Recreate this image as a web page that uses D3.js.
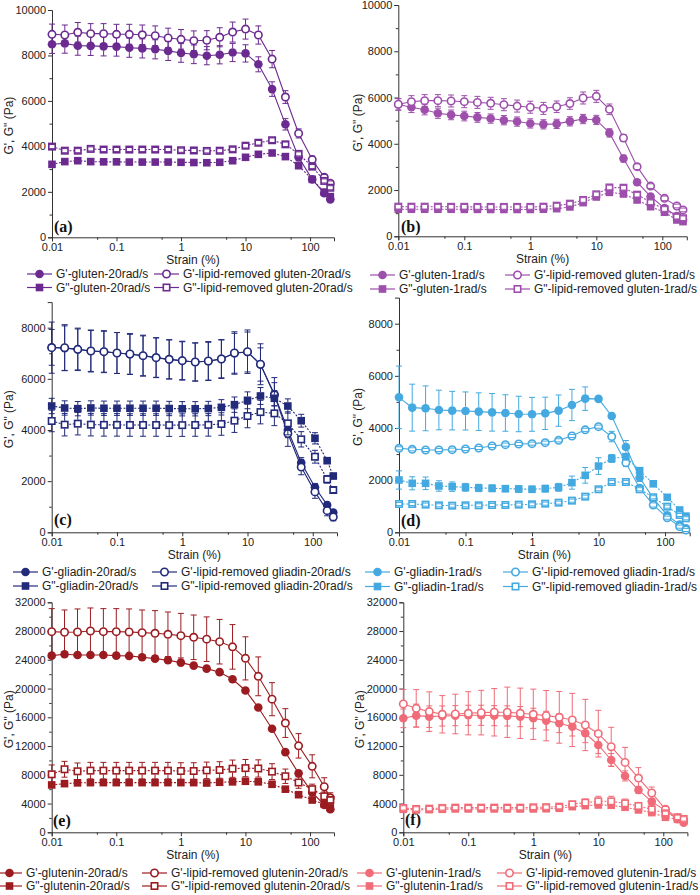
<!DOCTYPE html>
<html>
<head>
<meta charset="utf-8">
<script src="https://cdn.jsdelivr.net/npm/d3@7"></script>
<style>
  html, body { margin: 0; padding: 0; background: #fff; }
  svg { display: block; font-family: "Liberation Sans", Arial, sans-serif; }
</style>
</head>
<body>
<svg id="fig" width="700" height="895"></svg>
<script>
// Strain (%) of the 23 measured points, shared by every panel
const strain = [0.01, 0.0158, 0.0251, 0.0398, 0.0631, 0.1, 0.158, 0.251, 0.398, 0.631, 1, 1.58, 2.51, 3.98, 6.31, 10, 15.8, 25.8, 41.5, 66.5, 108, 166, 206];

// (a) gluten, 20 rad/s
const gluten20_Gp       = [8490, 8530, 8430, 8420, 8400, 8390, 8340, 8310, 8270, 8200, 8110, 8050, 7990, 8030, 8130, 8090, 7610, 6520, 4970, 3520, 2550, 1935, 1670];
const gluten20_Gp_err   = [400, 430, 420, 420, 420, 420, 420, 420, 420, 420, 410, 410, 400, 400, 400, 380, 330, 320, 250, 160, 120, 100, 80];
const gluten20_Gp_lr    = [8930, 8900, 9020, 8960, 8960, 8930, 8930, 8910, 8870, 8770, 8710, 8650, 8670, 8800, 9030, 9160, 8900, 7840, 6170, 4570, 3420, 2640, 2380];
const gluten20_Gp_lr_err= [450, 440, 430, 440, 440, 440, 440, 430, 430, 430, 430, 430, 420, 420, 440, 440, 400, 380, 280, 200, 150, 120, 100];
const gluten20_Gpp      = [3210, 3330, 3370, 3330, 3320, 3320, 3310, 3310, 3310, 3310, 3300, 3290, 3280, 3300, 3370, 3520, 3650, 3710, 3550, 3150, 2550, 1990, 1790];
const gluten20_Gpp_err  = [80, 80, 80, 80, 80, 80, 80, 80, 80, 80, 80, 80, 80, 80, 80, 90, 90, 90, 90, 80, 80, 80, 80];
const gluten20_Gpp_lr   = [3990, 3810, 3810, 3890, 3860, 3860, 3860, 3860, 3860, 3860, 3830, 3820, 3800, 3810, 3870, 4030, 4160, 4270, 4090, 3670, 3110, 2480, 2180];
const gluten20_Gpp_lr_err = [90, 90, 90, 90, 90, 90, 90, 90, 90, 90, 90, 90, 90, 90, 90, 100, 100, 100, 100, 90, 90, 90, 90];

// (b) gluten, 1 rad/s
const gluten1_Gp        = [5700, 5580, 5470, 5320, 5250, 5200, 5140, 5090, 5020, 4960, 4880, 4840, 4860, 4970, 5070, 5030, 4470, 3360, 2340, 1720, 1220, 880, 720];
const gluten1_Gp_err    = [250, 230, 220, 220, 210, 210, 210, 200, 200, 200, 200, 200, 200, 200, 200, 200, 180, 150, 120, 100, 80, 80, 80];
const gluten1_Gp_lr     = [5710, 5820, 5865, 5865, 5850, 5820, 5790, 5750, 5690, 5630, 5580, 5530, 5600, 5740, 5980, 6050, 5490, 4250, 3010, 2170, 1640, 1310, 1140];
const gluten1_Gp_lr_err = [250, 260, 260, 260, 260, 260, 260, 260, 260, 260, 260, 260, 250, 250, 260, 260, 230, 150, 120, 100, 100, 80, 80];
const gluten1_Gpp       = [1170, 1170, 1170, 1170, 1170, 1165, 1165, 1160, 1160, 1160, 1160, 1170, 1195, 1270, 1455, 1700, 1900, 1830, 1570, 1280, 1040, 706, 634];
const gluten1_Gpp_err   = [100, 100, 100, 100, 100, 100, 100, 100, 100, 100, 100, 100, 100, 100, 100, 100, 100, 100, 100, 100, 100, 100, 100];
const gluten1_Gpp_lr    = [1280, 1280, 1280, 1280, 1275, 1275, 1270, 1270, 1270, 1270, 1270, 1280, 1325, 1410, 1570, 1815, 2110, 2100, 1800, 1470, 1180, 850, 780];
const gluten1_Gpp_lr_err= [100, 100, 100, 100, 100, 100, 100, 100, 100, 100, 100, 100, 100, 100, 100, 100, 100, 100, 100, 100, 100, 100, 100];

// (c) gliadin, 20 rad/s
const gliadin20_Gp        = [7230, 7200, 7150, 7090, 7060, 7010, 6960, 6900, 6830, 6760, 6710, 6660, 6690, 6780, 7000, 7050, 6560, 5400, 4000, 2720, 1760, 1070, 770];
const gliadin20_Gp_err    = [700, 870, 800, 800, 800, 800, 780, 780, 770, 760, 740, 740, 740, 740, 780, 780, 650, 450, 300, 200, 150, 100, 80];
const gliadin20_Gp_lr     = [7218, 7218, 7153, 7088, 7062, 7010, 6970, 6906, 6827, 6762, 6710, 6658, 6697, 6775, 7010, 7060, 6570, 5368, 3860, 2550, 1580, 845, 600];
const gliadin20_Gp_lr_err = [1000, 900, 830, 820, 820, 800, 800, 800, 780, 770, 760, 750, 760, 760, 830, 850, 800, 680, 500, 300, 250, 200, 150];
const gliadin20_Gpp       = [4938, 4860, 4834, 4860, 4850, 4850, 4850, 4850, 4850, 4840, 4830, 4830, 4840, 4886, 4990, 5160, 5330, 5240, 4937, 4363, 3675, 2800, 2200];
const gliadin20_Gpp_err   = [300, 280, 280, 280, 280, 280, 280, 280, 280, 280, 280, 280, 280, 300, 300, 330, 330, 300, 280, 250, 220, 100, 100];
const gliadin20_Gpp_lr    = [4352, 4208, 4247, 4208, 4200, 4200, 4195, 4195, 4195, 4190, 4190, 4195, 4200, 4234, 4365, 4547, 4700, 4650, 4260, 3635, 2955, 2072, 1653];
const gliadin20_Gpp_lr_err= [420, 440, 440, 440, 440, 440, 440, 440, 440, 440, 440, 440, 440, 440, 460, 460, 460, 480, 450, 300, 250, 150, 100];

// (d) gliadin, 1 rad/s
const gliadin1_Gp        = [5176, 4780, 4754, 4690, 4665, 4652, 4626, 4600, 4575, 4537, 4524, 4562, 4665, 4882, 5125, 5115, 4460, 3270, 2100, 1300, 650, 300, 150];
const gliadin1_Gp_err    = [1200, 900, 860, 760, 740, 730, 720, 720, 700, 680, 650, 620, 600, 600, 450, 80, 100, 250, 150, 100, 80, 80, 80];
const gliadin1_Gp_lr     = [3220, 3182, 3157, 3157, 3169, 3195, 3233, 3310, 3361, 3387, 3400, 3438, 3527, 3693, 3930, 4050, 3670, 2670, 1690, 1048, 560, 217, 90];
const gliadin1_Gp_lr_err = [60, 60, 60, 60, 60, 60, 60, 60, 60, 60, 60, 60, 60, 60, 60, 60, 200, 150, 100, 80, 60, 60, 60];
const gliadin1_Gpp       = [2006, 1879, 1879, 1776, 1751, 1725, 1700, 1687, 1674, 1661, 1649, 1674, 1725, 1904, 2185, 2540, 2830, 2900, 2364, 1860, 1342, 855, 620];
const gliadin1_Gpp_err   = [350, 250, 240, 200, 180, 150, 140, 130, 120, 120, 120, 130, 150, 250, 300, 320, 150, 120, 100, 80, 80, 80, 80];
const gliadin1_Gpp_lr    = [1086, 1086, 1061, 1035, 1022, 1035, 1035, 1048, 1048, 1061, 1073, 1099, 1137, 1214, 1367, 1649, 1930, 1930, 1649, 1342, 984, 665, 537];
const gliadin1_Gpp_lr_err= [60, 60, 60, 60, 60, 60, 60, 60, 60, 60, 60, 60, 60, 60, 60, 60, 60, 60, 60, 60, 60, 60, 60];

// (e) glutenin, 20 rad/s
const glutenin20_Gp        = [24580, 24770, 24670, 24670, 24670, 24580, 24540, 24350, 24160, 23930, 23610, 23190, 22770, 22280, 21290, 19730, 17360, 14400, 11150, 8200, 5550, 3800, 3200];
const glutenin20_Gp_err    = [250, 250, 250, 250, 250, 250, 250, 250, 250, 250, 250, 250, 250, 250, 250, 250, 250, 250, 250, 250, 250, 250, 250];
const glutenin20_Gp_lr     = [27920, 27830, 27875, 28010, 27920, 27920, 27875, 27780, 27690, 27550, 27360, 27130, 26870, 26520, 25800, 24200, 21700, 18520, 15200, 12030, 9180, 6340, 4800];
const glutenin20_Gp_lr_err = [3200, 3100, 3200, 3200, 3200, 3200, 3200, 3150, 3150, 3100, 3100, 3100, 3100, 3100, 3100, 3000, 2700, 2300, 2000, 1700, 1600, 1250, 700];
const glutenin20_Gpp       = [6590, 6770, 6880, 6910, 6910, 6910, 6910, 6910, 6910, 6910, 6910, 6910, 6860, 6960, 7020, 7100, 7020, 6680, 6000, 5230, 4490, 3920, 3400];
const glutenin20_Gpp_err   = [300, 300, 300, 300, 300, 300, 300, 300, 300, 300, 300, 300, 300, 300, 300, 300, 300, 300, 300, 300, 300, 300, 300];
const glutenin20_Gpp_lr    = [8070, 8770, 8490, 8580, 8580, 8580, 8580, 8580, 8580, 8580, 8530, 8530, 8620, 8670, 8850, 8930, 8880, 8440, 7800, 6930, 6000, 5010, 4500];
const glutenin20_Gpp_lr_err= [1300, 1100, 1150, 1150, 1150, 1150, 1150, 1150, 1150, 1150, 1150, 1150, 1150, 1150, 1200, 1200, 1200, 1100, 1000, 800, 700, 600, 400];

// (f) glutenin, 1 rad/s
const glutenin1_Gp        = [15860, 16230, 16090, 16180, 16230, 16280, 16280, 16230, 16190, 16090, 15860, 15540, 15170, 14700, 13770, 12150, 10060, 7840, 5890, 4270, 3010, 1810, 1345];
const glutenin1_Gp_err    = [1300, 1600, 1500, 1400, 1400, 1400, 1400, 1400, 1400, 1400, 1400, 1300, 1300, 1300, 1300, 1200, 900, 700, 500, 400, 300, 200, 100];
const glutenin1_Gp_lr     = [17860, 17250, 16790, 16420, 16460, 16560, 16650, 16700, 16700, 16560, 16420, 16230, 16000, 15630, 14930, 13720, 11910, 9720, 7550, 5470, 3200, 2040, 1620];
const glutenin1_Gp_lr_err = [2000, 2600, 2750, 2600, 2750, 3000, 3100, 3300, 3500, 3500, 3500, 3500, 3600, 3700, 3570, 3250, 2700, 2100, 1450, 830, 400, 300, 200];
const glutenin1_Gpp       = [3200, 3110, 3150, 3200, 3250, 3250, 3250, 3250, 3250, 3250, 3250, 3280, 3340, 3570, 3710, 3800, 3760, 3480, 3110, 2740, 2090, 1810, 1580];
const glutenin1_Gpp_err   = [300, 300, 300, 300, 300, 300, 300, 300, 300, 300, 300, 300, 300, 300, 300, 300, 300, 300, 300, 300, 300, 300, 300];
const glutenin1_Gpp_lr    = [3390, 3250, 3290, 3390, 3430, 3430, 3430, 3430, 3430, 3430, 3480, 3500, 3570, 3900, 4130, 4310, 4310, 4030, 3660, 3200, 2640, 2090, 1860];
const glutenin1_Gpp_lr_err= [300, 300, 300, 300, 300, 300, 300, 300, 300, 300, 300, 300, 300, 400, 500, 700, 700, 600, 500, 400, 300, 300, 300];

// Tick values
const xMajor = [0.01, 0.1, 1, 10, 100];
const xMinor = [0.05, 0.5, 5, 50];

// Build the 4 series of one panel (order = drawing order)
function mk(sample, rate, Gp, GpE, Gpl, GplE, Gpp, GppE, Gppl, GpplE) {
  return [
    { name: `G'-${sample}-${rate}`,                    v: Gp,   e: GpE,   shape: "circle", open: false, dash: null },
    { name: `G'-lipid-removed ${sample}-${rate}`,      v: Gpl,  e: GplE,  shape: "circle", open: true,  dash: null },
    { name: `G"-${sample}-${rate}`,                    v: Gpp,  e: GppE,  shape: "square", open: false, dash: "2,1.6" },
    { name: `G"-lipid-removed ${sample}-${rate}`,      v: Gppl, e: GpplE, shape: "square", open: true,  dash: "2,1.6" }
  ];
}

const panels = [
  { tag: "(a)", color: "#6b2a8f", l: 52, r: 334, t: 10, b: 237.3, ymax: 10000, ystep: 2000,
    letter: [54, 232], ylab: 9, leg: { y: [274, 287.5], x: [27, 154] },
    series: mk("gluten", "20rad/s", gluten20_Gp, gluten20_Gp_err, gluten20_Gp_lr, gluten20_Gp_lr_err, gluten20_Gpp, gluten20_Gpp_err, gluten20_Gpp_lr, gluten20_Gpp_lr_err) },
  { tag: "(b)", color: "#9d4fab", l: 398.3, r: 686.8, t: 5, b: 236.3, ymax: 10000, ystep: 2000,
    letter: [401, 232], ylab: 358, leg: { y: [275, 289], x: [370, 505] },
    series: mk("gluten", "1rad/s", gluten1_Gp, gluten1_Gp_err, gluten1_Gp_lr, gluten1_Gp_lr_err, gluten1_Gpp, gluten1_Gpp_err, gluten1_Gpp_lr, gluten1_Gpp_lr_err) },
  { tag: "(c)", color: "#222a7a", l: 51.7, r: 337, t: 302.1, b: 532.3, ymax: 9000, ystep: 2000,
    letter: [54, 525], ylab: 9, leg: { y: [572, 586], x: [13, 152] },
    series: mk("gliadin", "20rad/s", gliadin20_Gp, gliadin20_Gp_err, gliadin20_Gp_lr, gliadin20_Gp_lr_err, gliadin20_Gpp, gliadin20_Gpp_err, gliadin20_Gpp_lr, gliadin20_Gpp_lr_err) },
  { tag: "(d)", color: "#43a9e0", l: 399, r: 689.7, t: 297.6, b: 532.3, ymax: 9000, ystep: 2000,
    letter: [401, 525.5], ylab: 358, leg: { y: [572, 586.5], x: [365, 503] },
    series: mk("gliadin", "1rad/s", gliadin1_Gp, gliadin1_Gp_err, gliadin1_Gp_lr, gliadin1_Gp_lr_err, gliadin1_Gpp, gliadin1_Gpp_err, gliadin1_Gpp_lr, gliadin1_Gpp_lr_err) },
  { tag: "(e)", color: "#9b1c20", l: 51.7, r: 334, t: 602.3, b: 832.3, ymax: 32000, ystep: 4000,
    letter: [53, 826], ylab: 9, leg: { y: [873, 886], x: [-3, 142] },
    series: mk("glutenin", "20rad/s", glutenin20_Gp, glutenin20_Gp_err, glutenin20_Gp_lr, glutenin20_Gp_lr_err, glutenin20_Gpp, glutenin20_Gpp_err, glutenin20_Gpp_lr, glutenin20_Gpp_lr_err) },
  { tag: "(f)", color: "#f06c78", l: 403.3, r: 687.4, t: 602.3, b: 832.3, ymax: 32000, ystep: 4000,
    letter: [405, 825], ylab: 360, leg: { y: [873, 886], x: [357, 497] },
    series: mk("glutenin", "1rad/s", glutenin1_Gp, glutenin1_Gp_err, glutenin1_Gp_lr, glutenin1_Gp_lr_err, glutenin1_Gpp, glutenin1_Gpp_err, glutenin1_Gpp_lr, glutenin1_Gpp_lr_err) }
];

const svg = d3.select("#fig");
const INK = "#222";
const R_CIRC = 4.3, S_SQ = 7.6;

// Draw a marker (circle/square, filled or open)
function marker(sel, s, color, cx, cy, scale = 1) {
  const sw = s.open ? 1.6 : 0;
  if (s.shape === "circle") {
    sel.append("circle").attr("cx", cx).attr("cy", cy)
      .attr("r", (s.open ? R_CIRC - 0.6 : R_CIRC) * scale)
      .attr("fill", s.open ? "#fff" : color)
      .attr("stroke", color).attr("stroke-width", sw);
  } else {
    const h = (s.open ? S_SQ - 1.2 : S_SQ) * scale;
    sel.append("rect").attr("x", cx - h / 2).attr("y", cy - h / 2)
      .attr("width", h).attr("height", h)
      .attr("fill", s.open ? "#fff" : color)
      .attr("stroke", color).attr("stroke-width", sw);
  }
}

function styleAxis(ax) {
  ax.attr("font-family", null).attr("font-size", null);
  ax.selectAll("path.domain").attr("stroke", "#333").attr("stroke-width", 1);
  ax.selectAll(".tick line").attr("stroke", "#333");
  ax.selectAll(".tick text").attr("fill", INK).style("font-size", "11px");
}

panels.forEach(p => {
  const g = svg.append("g");
  const x = d3.scaleLog().domain([0.01, 235]).range([p.l, p.r]);
  const y = d3.scaleLinear().domain([0, p.ymax]).range([p.b, p.t]);

  // 1) Axes (bottom + left only)
  const axX = g.append("g").attr("transform", `translate(0,${p.b})`)
    .call(d3.axisBottom(x).tickValues(xMajor).tickFormat(d => String(d)).tickSize(4).tickPadding(2));
  styleAxis(axX);
  const axXm = g.append("g").attr("transform", `translate(0,${p.b})`)
    .call(d3.axisBottom(x).tickValues(xMinor).tickFormat("").tickSize(2.5));
  axXm.select(".domain").remove();
  styleAxis(axXm);

  const yMajor = d3.range(0, p.ymax + 1, p.ystep);
  const yMinor = d3.range(p.ystep / 2, p.ymax, p.ystep);
  const axY = g.append("g").attr("transform", `translate(${p.l},0)`)
    .call(d3.axisLeft(y).tickValues(yMajor).tickFormat(d3.format("d")).tickSize(4).tickPadding(2));
  styleAxis(axY);
  const axYm = g.append("g").attr("transform", `translate(${p.l},0)`)
    .call(d3.axisLeft(y).tickValues(yMinor).tickFormat("").tickSize(2.5));
  axYm.select(".domain").remove();
  styleAxis(axYm);

  // 2) Axis titles
  g.append("text").attr("x", (p.l + p.r) / 2).attr("y", p.b + 26.5)
    .attr("text-anchor", "middle").attr("fill", INK).style("font-size", "12px")
    .text("Strain (%)");
  g.append("text")
    .attr("transform", `translate(${p.ylab},${(p.t + p.b) / 2 + 2}) rotate(-90)`)
    .attr("text-anchor", "middle").attr("dy", "0.35em").attr("fill", INK).style("font-size", "12px")
    .text(`G', G" (Pa)`);

  // 3) Panel letter
  g.append("text").attr("x", p.letter[0]).attr("y", p.letter[1])
    .attr("fill", "#111").style("font-family", '"Liberation Serif", "Times New Roman", serif')
    .style("font-weight", "bold").style("font-size", "16px").text(p.tag);

  // 4) Connecting lines
  const line = d3.line().x((d, i) => x(strain[i])).y(d => y(d));
  p.series.forEach(s => {
    g.append("path").datum(s.v).attr("d", line)
      .attr("fill", "none").attr("stroke", p.color).attr("stroke-width", 1.1)
      .attr("stroke-dasharray", s.dash);
  });

  // 5) Markers, then error bars (drawn from the marker edge outward)
  p.series.forEach(s => {
    const rad = s.shape === "circle" ? R_CIRC : S_SQ / 2;
    const gm = g.append("g");
    s.v.forEach((v, i) => marker(gm, s, p.color, x(strain[i]), y(v)));
    const ge = g.append("g").attr("stroke", p.color).attr("stroke-width", 1).attr("fill", "none");
    s.v.forEach((v, i) => {
      const cx = x(strain[i]), cy = y(v);
      const yt = y(v + s.e[i]), yb = y(v - s.e[i]);
      let d = `M${cx - 3},${yt}H${cx + 3}M${cx - 3},${yb}H${cx + 3}`;
      if (cy - yt > rad) d += `M${cx},${cy - rad}V${yt}M${cx},${cy + rad}V${yb}`;
      ge.append("path").attr("d", d);
    });
  });

  // 6) Legend: 2 rows x 2 columns
  const order = [[0, 1], [2, 3]];
  order.forEach((row, ri) => row.forEach((si, ci) => {
    const s = p.series[si];
    const lx = p.leg.x[ci], ly = p.leg.y[ri];
    g.append("line").attr("x1", lx).attr("x2", lx + 25).attr("y1", ly).attr("y2", ly)
      .attr("stroke", p.color).attr("stroke-width", 1.2);
    marker(g, s, p.color, lx + 12.5, ly, 1);
    g.append("text").attr("x", lx + 29).attr("y", ly).attr("dy", "0.36em")
      .attr("fill", INK).style("font-size", "12px").text(s.name);
  }));
});
</script>
</body>
</html>
